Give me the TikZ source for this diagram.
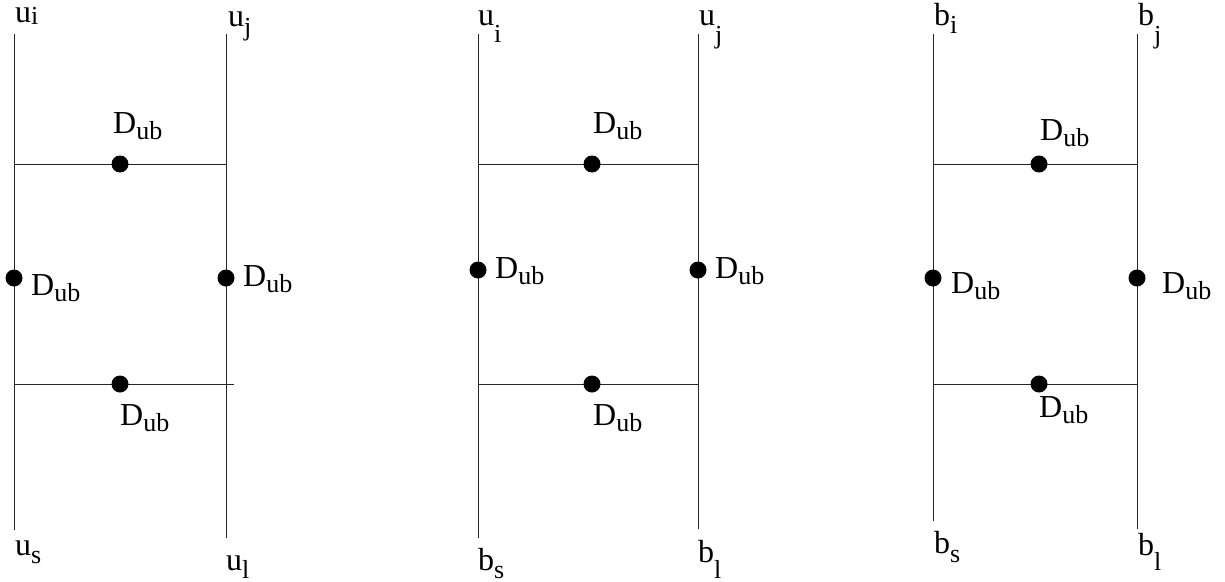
\documentclass[tikz,border=0pt]{standalone}
\usepackage{fontspec}
\setmainfont{Liberation Serif}
\usepackage{tikz}

% label with lowered subscript
\newcommand{\sublab}[3]{#1\raisebox{-#3pt}{\fontsize{26}{26}\selectfont #2}}

\begin{document}
\begin{tikzpicture}[x=1pt, y=-1pt,
    wire/.style={draw=black!85, line width=0.9pt},
    vertex/.style={circle, fill=black, inner sep=0pt, minimum size=17pt},
    tag/.style={anchor=base west, inner sep=0pt, font=\fontsize{32}{32}\selectfont}]

\useasboundingbox (0,0) rectangle (1225,581);

% first diagram
\coordinate (ui1) at (14,34);
\coordinate (us1) at (14,530);
\coordinate (uj1) at (226,34);
\coordinate (ul1) at (226,538);
\coordinate (hl1) at (14,164);
\coordinate (hr1) at (226,164);
\coordinate (gl1) at (14,384);
\coordinate (gr1) at (234,384);

\draw [wire] (ui1) -- (us1);
\draw [wire] (uj1) -- (ul1);
\draw [wire] (hl1) -- (hr1);
\draw [wire] (gl1) -- (gr1);

\node [vertex] (top1) at (120,164) {};
\node [vertex] (left1) at (14,278) {};
\node [vertex] (right1) at (226,278) {};
\node [vertex] (bot1) at (120,384) {};

\node [tag] (lui1) at (15,22) {\sublab{u}{i}{2}};
\node [tag] (luj1) at (228,26) {\sublab{u}{j}{9}};
\node [tag] (ltop1) at (113,133) {\sublab{D}{ub}{6}};
\node [tag] (lleft1) at (31,295) {\sublab{D}{ub}{6}};
\node [tag] (lright1) at (243,286) {\sublab{D}{ub}{6}};
\node [tag] (lbot1) at (120,425) {\sublab{D}{ub}{6}};
\node [tag] (lus1) at (15,555) {\sublab{u}{s}{8}};
\node [tag] (lul1) at (226,570) {\sublab{u}{l}{8}};

% second diagram
\coordinate (ui2) at (478,34);
\coordinate (bs2) at (478,538);
\coordinate (uj2) at (698,34);
\coordinate (bl2) at (698,529);
\coordinate (hl2) at (478,164);
\coordinate (hr2) at (698,164);
\coordinate (gl2) at (478,384);
\coordinate (gr2) at (698,384);

\draw [wire] (ui2) -- (bs2);
\draw [wire] (uj2) -- (bl2);
\draw [wire] (hl2) -- (hr2);
\draw [wire] (gl2) -- (gr2);

\node [vertex] (top2) at (592,164) {};
\node [vertex] (left2) at (478,270) {};
\node [vertex] (right2) at (698,270) {};
\node [vertex] (bot2) at (592,384) {};

\node [tag] (lui2) at (478,25) {\sublab{u}{i}{17}};
\node [tag] (luj2) at (699,25) {\sublab{u}{j}{18}};
\node [tag] (ltop2) at (593,133) {\sublab{D}{ub}{6}};
\node [tag] (lleft2) at (495,278) {\sublab{D}{ub}{6}};
\node [tag] (lright2) at (715,278) {\sublab{D}{ub}{6}};
\node [tag] (lbot2) at (593,425) {\sublab{D}{ub}{6}};
\node [tag] (lbs2) at (478,570) {\sublab{b}{s}{8}};
\node [tag] (lbl2) at (698,562) {\sublab{b}{l}{16}};

% third diagram
\coordinate (bi3) at (933,34);
\coordinate (bs3) at (933,521);
\coordinate (bj3) at (1137,34);
\coordinate (bl3) at (1137,529);
\coordinate (hl3) at (933,164);
\coordinate (hr3) at (1137,164);
\coordinate (gl3) at (933,384);
\coordinate (gr3) at (1137,384);

\draw [wire] (bi3) -- (bs3);
\draw [wire] (bj3) -- (bl3);
\draw [wire] (hl3) -- (hr3);
\draw [wire] (gl3) -- (gr3);

\node [vertex] (top3) at (1039,164) {};
\node [vertex] (left3) at (933,278) {};
\node [vertex] (right3) at (1137,278) {};
\node [vertex] (bot3) at (1039,384) {};

\node [tag] (lbi3) at (934,25) {\sublab{b}{i}{8}};
\node [tag] (lbj3) at (1138,25) {\sublab{b}{j}{18}};
\node [tag] (ltop3) at (1040,140) {\sublab{D}{ub}{6}};
\node [tag] (lleft3) at (951,293) {\sublab{D}{ub}{6}};
\node [tag] (lright3) at (1162,293) {\sublab{D}{ub}{6}};
\node [tag] (lbot3) at (1039,417) {\sublab{D}{ub}{6}};
\node [tag] (lbs3) at (934,553) {\sublab{b}{s}{9}};
\node [tag] (lbl3) at (1138,555) {\sublab{b}{l}{15}};

\end{tikzpicture}
\end{document}
